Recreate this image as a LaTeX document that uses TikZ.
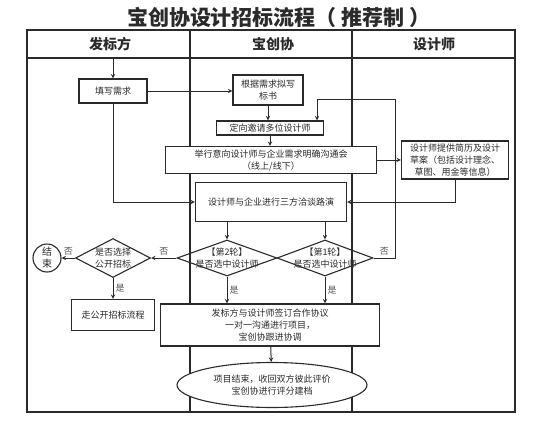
\documentclass[tikz,border=0pt]{standalone}
\usepackage{fontspec}
\setmainfont{Noto Sans CJK SC}
\usetikzlibrary{shapes, arrows}
\definecolor{inkgray}{HTML}{2A2A2A}
\definecolor{labelgray}{HTML}{555555}
\newcommand{\flowfont}{\fontsize{9}{12}\selectfont}
\newcommand{\lanefont}{\fontsize{14}{14}\selectfont\bfseries}
\tikzstyle{process} = [rectangle, draw=inkgray, fill=white, line width=1.1pt, text=inkgray, align=center, inner sep=1pt, font=\flowfont]
\tikzstyle{decision} = [diamond, draw=inkgray, line width=1.1pt, inner sep=0pt]
\tikzstyle{startstop} = [ellipse, draw=inkgray, fill=white, line width=1.1pt, text=inkgray, align=center, inner sep=0pt, font=\flowfont]
\tikzstyle{stopdot} = [circle, draw=inkgray, fill=white, line width=1.1pt, text=inkgray, align=center, inner sep=0pt, minimum size=28pt, font=\fontsize{10}{12}\selectfont]
\tikzstyle{note} = [text=inkgray, align=center, font=\flowfont]
\tikzstyle{tag} = [text=labelgray, font=\flowfont, inner sep=2pt]
\tikzstyle{lane} = [draw=inkgray, line width=1.1pt]
\tikzstyle{arrow} = [line width=1pt, draw=inkgray, ->, >=stealth]

\begin{document}
\begin{tikzpicture}[x=1pt, y=-1pt]
    \useasboundingbox (0,0) rectangle (539,426);
    \node (title) [text=inkgray] at (279,17) {\fontsize{21}{21}\selectfont\bfseries 宝创协设计招标流程（\hspace{5pt}推荐制\hspace{5pt}）};

    % swimlanes
    \draw [lane] (27,30) rectangle (515,412);
    \draw [lane] (27,58) -- (515,58);
    \draw [lane] (190,30) -- (190,412);
    \draw [lane] (352,30) -- (352,412);
    \node (clientlane) [text=inkgray] at (110,44) {\lanefont 发标方};
    \node (agencylane) [text=inkgray] at (273,44) {\lanefont 宝创协};
    \node (designlane) [text=inkgray] at (434,44) {\lanefont 设计师};

    \coordinate (entry) at (113,58);
    \node (fill) [process, minimum width=68pt, minimum height=24pt] at (113,91) {填写需求};
    \node (write) [process, minimum width=70pt, minimum height=30pt] at (268,90) {根据需求拟写\\标书};
    \node (invite) [process, minimum width=107pt, minimum height=14pt] at (270,128) {定向邀请多位设计师};
    \node (meeting) [process, minimum width=211pt, minimum height=27pt] at (271,160) {举行意向设计师与企业需求明确沟通会\\（线上/线下）};
    \node (offer) [process, minimum width=107pt, minimum height=38pt] at (455,160) {设计师提供简历及设计\\草案（包括设计理念、\\草图、用金等信息）};
    \node (talk) [process, minimum width=151pt, minimum height=39pt] at (271,202) {设计师与企业进行三方洽谈路演};
    \node (round2) [decision, minimum width=100pt, minimum height=36pt] at (227,258) {};
    \node (round2txt) [note] at (round2) {【第2轮】\\是否选中设计师};
    \node (round1) [decision, minimum width=96pt, minimum height=36pt] at (325,258) {};
    \node (round1txt) [note] at (round1) {【第1轮】\\是否选中设计师};
    \node (public) [decision, minimum width=75pt, minimum height=39pt] at (113,258) {};
    \node (publictxt) [note] at (public) {是否选择\\公开招标};
    \node (finish) [stopdot] at (47,258) {结\\束};
    \node (openproc) [process, minimum width=83pt, minimum height=31pt] at (113,315) {走公开招标流程};
    \node (sign) [process, minimum width=219pt, minimum height=42pt] at (270,325) {发标方与设计师签订合作协议\\一对一沟通进行项目，\\宝创协跟进协调};
    \node (ending) [startstop, minimum width=190pt, minimum height=45pt] at (272,385) {项目结束，收回双方彼此评价\\宝创协进行评分建档};

    \coordinate (loopa) at (395,258);
    \coordinate (loopb) at (317,99);

    \draw [arrow] (entry) -- (fill);
    \draw [arrow] (fill) -- (fill -| write.west);
    \draw [arrow] (write.south) -- (write.south |- invite.north);
    \draw [arrow] (invite.south) -- (invite.south |- meeting.north);
    \draw [arrow] (meeting) -- (offer);
    \draw [arrow] (offer.south) |- (talk.east);
    \draw [arrow] (fill.south) |- (talk.west);
    \draw [arrow] (talk.south -| round2.north) -- (round2.north);
    \draw [arrow] (talk.south -| round1.north) -- (round1.north);
    \draw [arrow] (round1.east) -- node[tag, above] {否} (loopa) |- (loopb) -- (loopb |- invite.north);
    \draw [arrow] (round2.west) -- node[tag, above] {否} (public.east);
    \draw [arrow] (public.west) -- node[tag, above] {否} (finish.east);
    \draw [arrow] (public.south) -- node[tag, right] {是} (openproc.north);
    \draw [arrow] (round2.south) -- node[tag, right] {是} (round2.south |- sign.north);
    \draw [arrow] (round1.south) -- node[tag, right] {是} (round1.south |- sign.north);
    \draw [arrow] (sign) -- (ending);

\end{tikzpicture}
\end{document}
